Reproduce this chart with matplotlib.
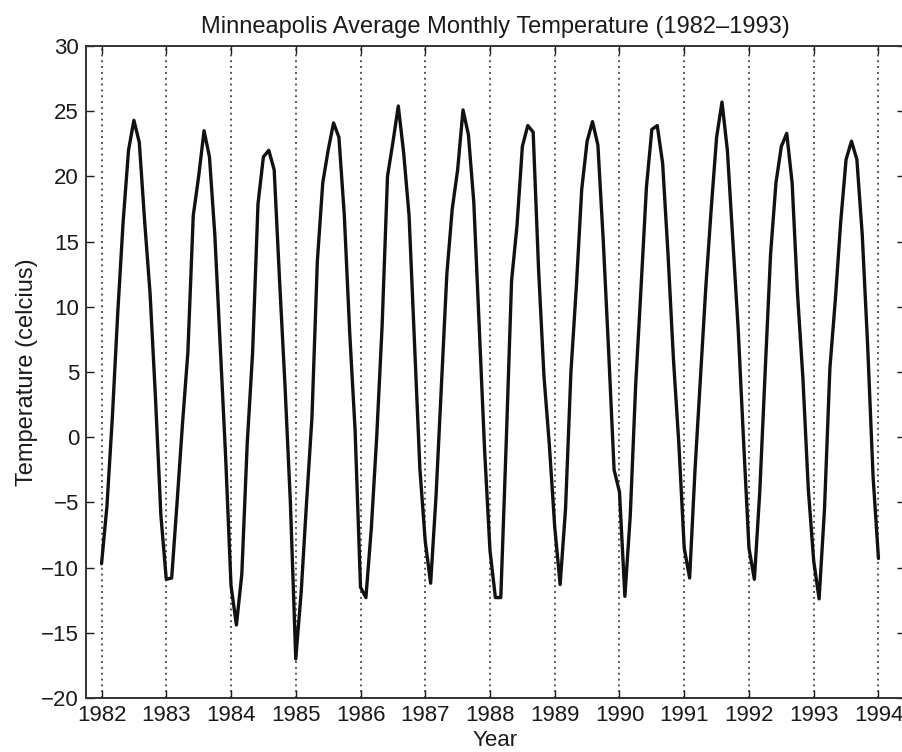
import numpy as np
import matplotlib
matplotlib.use('Agg')
import matplotlib.pyplot as plt

plt.rcParams['font.family'] = ['Liberation Sans', 'DejaVu Sans']

# monthly means, Jan..Dec per year
t1982 = [-9.7, -5.3, 1.5, 9.5, 16.5, 22.0, 24.3, 22.6, 16.5, 11.0, 3.0, -6.0]
t1983 = [-10.9, -10.8, -5.0, 1.0, 6.5, 17.0, 20.0, 23.5, 21.5, 15.5, 7.0, -1.5]
t1984 = [-11.4, -14.4, -10.5, -0.5, 6.5, 17.9, 21.5, 22.0, 20.5, 12.0, 4.0, -5.0]
t1985 = [-17.0, -11.9, -5.0, 1.5, 13.5, 19.5, 22.0, 24.1, 23.0, 17.0, 8.0, 0.5]
t1986 = [-11.5, -12.3, -7.0, 0.0, 8.5, 20.0, 22.6, 25.4, 21.8, 17.0, 7.3, -2.4]
t1987 = [-8.0, -11.2, -4.5, 4.0, 12.5, 17.5, 20.5, 25.1, 23.2, 18.0, 8.5, -1.0]
t1988 = [-8.7, -12.3, -12.3, -0.5, 12.0, 16.2, 22.3, 23.9, 23.4, 12.9, 4.7, -0.6]
t1989 = [-6.9, -11.3, -5.5, 5.0, 11.5, 19.0, 22.7, 24.2, 22.4, 15.0, 6.5, -2.5]
t1990 = [-4.2, -12.2, -6.0, 4.0, 11.5, 19.2, 23.6, 23.9, 21.0, 14.0, 6.0, -0.5]
t1991 = [-8.5, -10.8, -2.5, 4.5, 11.5, 17.5, 23.0, 25.7, 22.0, 15.1, 8.3, -0.3]
t1992 = [-8.5, -10.9, -4.2, 5.0, 14.0, 19.5, 22.3, 23.3, 19.5, 11.0, 4.5, -4.0]
t1993 = [-9.5, -12.4, -5.5, 5.3, 10.5, 16.5, 21.3, 22.7, 21.3, 15.5, 7.0, -3.0]
t1994 = [-9.3]

years = list(range(1982, 1995))
temps = (t1982 + t1983 + t1984 + t1985 + t1986 + t1987 + t1988 + t1989
         + t1990 + t1991 + t1992 + t1993 + t1994)
t = 1982 + np.arange(len(temps)) / 12.0

fig = plt.figure(figsize=(9.03, 7.52), dpi=100)
ax = fig.add_axes([86/903, 1 - 698/752, (905 - 86)/903, (698 - 46)/752])

for y in years:
    ax.axvline(y, color='#555555', linestyle=(0, (1, 2)), linewidth=1.4, zorder=1)

ax.plot(t, temps, color='#111111', linewidth=2.4, solid_joinstyle='round',
        solid_capstyle='round', zorder=2)

ax.set_xlim(1981.76, 1994.41)
ax.set_ylim(-20, 30)
ax.set_xticks(years)
ax.set_yticks(range(-20, 31, 5))
ax.tick_params(direction='in', top=True, right=True, length=6, width=1,
               labelsize=16, colors='#1a1a1a', pad=5)
for s in ax.spines.values():
    s.set_linewidth(1.4)
    s.set_color('#333333')

ax.set_title('Minneapolis Average Monthly Temperature (1982\u20131993)',
             fontsize=17, color='#1a1a1a', pad=9)
ax.set_xlabel('Year', fontsize=16, color='#1a1a1a', labelpad=3)
ax.set_ylabel('Temperature (celcius)', fontsize=17, color='#1a1a1a', labelpad=2)

fig.savefig('out.png', dpi=100)
